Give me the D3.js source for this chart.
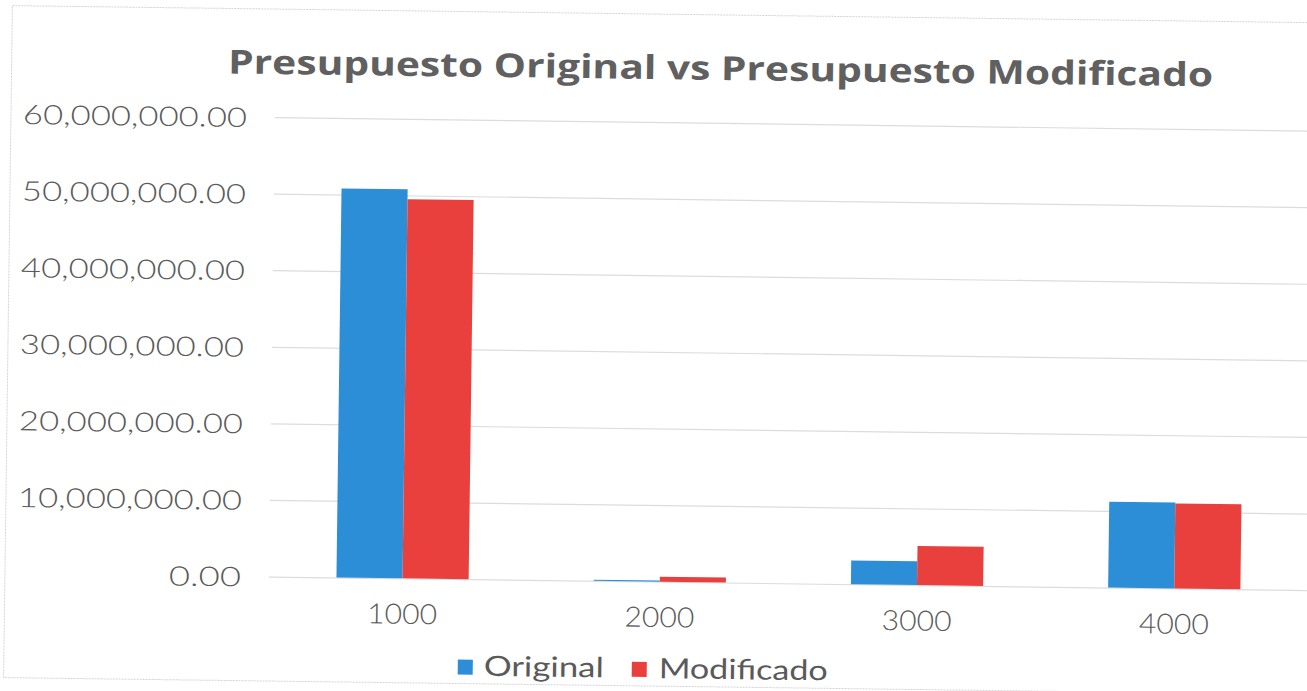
<!DOCTYPE html>
<html>
<head>
<meta charset="utf-8">
<script src="https://cdn.jsdelivr.net/npm/d3@7"></script>
<style>
	body { margin: 0; background: #fff; }
	svg { display: block; }
</style>
</head>
<body>
<div class="chart"></div>
<script>
// data
var categories = ["1000", "2000", "3000", "4000"];
var seriesNames = ["Original", "Modificado"];
var original = [50800000, 150000, 3100000, 11200000];
var modificado = [49500000, 650000, 5100000, 11100000];
var yTicks = [0, 10000000, 20000000, 30000000, 40000000, 50000000, 60000000];
var titleText = "Presupuesto Original vs Presupuesto Modificado";

(function drawChart() {
	"use strict";
	var width = 1307;
	var height = 691;
	var colors = ["#2c8ed6", "#e9403e"];
	var textColor = "#5a5a5a";

	var svg = d3.select(".chart")
				.append("svg")
				.attr("width", width)
				.attr("height", height)

	// the scan is tilted a little clockwise
	var canvas = svg.append("g")
					.attr("transform", "rotate(0.75, 650, 345)")

	canvas.append("rect")
		  .attr("x", 8)
		  .attr("y", 14)
		  .attr("width", 1320)
		  .attr("height", 672)
		  .attr("fill", "none")
		  .attr("stroke", "#d4d4d4")
		  .attr("stroke-dasharray", "2,1")

	var xScale = d3.scaleBand()
				   .domain(categories)
				   .range([277, 1306])
				   .paddingInner(0.486)
				   .paddingOuter(0.243)

	var x1 = d3.scaleBand()
			   .domain(seriesNames)
			   .range([0, xScale.bandwidth()])

	var yScale = d3.scaleLinear()
				   .domain([0, 60000000])
				   .range([581.5, 122])

	// gridlines
	var yAxis = d3.axisLeft(yScale)
				  .tickValues(yTicks)
				  .tickSize(-(1310 - 272))
				  .tickFormat(d3.format(",.2f"))

	var gy = canvas.append("g")
				   .attr("transform", "translate(272,0)")
				   .call(yAxis)
	gy.select(".domain").remove()
	gy.selectAll("line")
	  .attr("stroke", "#dcdcdc")
	  .attr("stroke-width", 1.2)
	gy.selectAll("text")
	  .attr("x", -28)
	  .attr("dy", "0.36em")
	  .attr("text-anchor", "end")
	  .attr("fill", textColor)
	  .style("font-family", "Lato, 'Open Sans', sans-serif")
	  .style("font-weight", 300)
	  .style("font-size", "27px")
	  .attr("textLength", function(d) { return d === 0 ? 72 : 224; })
	  .attr("lengthAdjust", "spacingAndGlyphs")

	// bars
	var rows = categories.map(function(c, i) {
		return { cat: c, values: [original[i], modificado[i]] };
	})

	var groups = canvas.selectAll(".grp")
					   .data(rows)
					   .enter()
					   .append("g")
					   .attr("class", "grp")
					   .attr("transform", function(d) { return "translate(" + xScale(d.cat) + ",0)"; })

	groups.selectAll("rect")
		  .data(function(d) {
		  	return d.values.map(function(v, j) { return { name: seriesNames[j], value: v, idx: j }; });
		  })
		  .enter()
		  .append("rect")
		  .attr("x", function(d) { return x1(d.name); })
		  .attr("width", x1.bandwidth())
		  .attr("y", function(d) { return yScale(d.value); })
		  .attr("height", function(d) { return yScale(0) - yScale(d.value); })
		  .attr("fill", function(d) { return colors[d.idx]; })

	// x axis labels
	var xAxis = d3.axisBottom(xScale)
				  .tickSize(0)
				  .tickPadding(0)

	var gx = canvas.append("g")
				   .attr("transform", "translate(0,607)")
				   .call(xAxis)
	gx.select(".domain").remove()
	gx.selectAll("text")
	  .attr("dy", "0.71em")
	  .attr("fill", textColor)
	  .style("font-family", "Lato, 'Open Sans', sans-serif")
	  .style("font-weight", 300)
	  .style("font-size", "28px")
	  .attr("textLength", 70)
	  .attr("lengthAdjust", "spacingAndGlyphs")

	// title
	canvas.append("text")
		  .attr("x", 717)
		  .attr("y", 79)
		  .attr("text-anchor", "middle")
		  .attr("fill", "#606060")
		  .style("font-family", "'Open Sans', sans-serif")
		  .style("font-weight", 700)
		  .style("font-size", "33px")
		  .attr("textLength", 985)
		  .attr("lengthAdjust", "spacingAndGlyphs")
		  .text(titleText)

	// legend
	var legendItems = [
		{ name: seriesNames[0], x: 462, tx: 488, w: 120 },
		{ name: seriesNames[1], x: 636, tx: 663, w: 169 }
	]
	var legend = canvas.selectAll(".legend")
					   .data(legendItems)
					   .enter()
					   .append("g")
					   .attr("class", "legend")
	legend.append("rect")
		  .attr("x", function(d) { return d.x; })
		  .attr("y", 662)
		  .attr("width", 15)
		  .attr("height", 15)
		  .attr("fill", function(d, i) { return colors[i]; })
	legend.append("text")
		  .attr("x", function(d) { return d.tx; })
		  .attr("y", 678)
		  .attr("fill", textColor)
		  .style("font-family", "Lato, 'Open Sans', sans-serif")
		  .style("font-weight", 400)
		  .style("font-size", "28px")
		  .attr("textLength", function(d) { return d.w; })
		  .attr("lengthAdjust", "spacingAndGlyphs")
		  .text(function(d) { return d.name; })
}())
</script>
</body>
</html>
